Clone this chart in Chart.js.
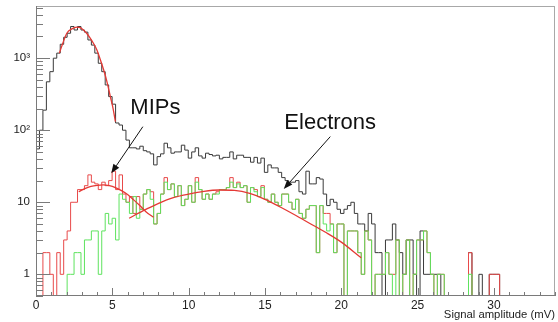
<!DOCTYPE html>
<html>
<head>
<meta charset="utf-8">
<title>Signal amplitude</title>
<script src="https://cdn.jsdelivr.net/npm/chart.js@4.4.1/dist/chart.umd.min.js"></script>
<style>
  html, body { margin: 0; padding: 0; background: #fff; }
  #wrap { width: 558px; height: 322px; position: relative; }
</style>
</head>
<body>
<div id="wrap"><canvas id="myChart"></canvas></div>
<script>
(() => {
  'use strict'

  // histogram binning (0 .. 34 mV, 150 bins)
  const binCount = 150;
  const xMax = 34;
  const binWidth = xMax / binCount;
  const yMin = 0.5;
  const yMax = 5300;

  // black: all events
  const allCounts = [
    55, 100, 190, 470, 650, 1000, 1175, 1560, 1950, 2220,
    2750, 2460, 2750, 2460, 2300, 1790, 1520, 1175, 850, 650,
    425, 293, 230, 126, 118, 100, 73, 57, 57, 55,
    60, 52, 50, 47, 33, 43, 47, 66, 57, 48,
    50, 50, 62, 53, 41, 50, 57, 44, 41, 48,
    46, 44, 45, 40, 42, 42, 50, 40, 45, 45,
    42, 42, 36, 42, 35, 41, 26, 33, 30, 30,
    26, 22, 20, 19, 19, 20, 14, 13, 27, 18,
    18, 22, 21, 13, 9, 11, 10, 8, 7, 8,
    9, 10, 7, 5, 5, 4, 7, 5, 2, 2,
    0, 3, 3, 5, 3, 2, 1, 3, 3, 1,
    0, 4, 1, 1, 1, 1, 1, 0, 0, 0,
    0, 0, 0, 0, 0, 2, 0, 0, 1, 0,
    0, 1, 1, 1, 0, 0, 0, 0, 0, 0,
    0, 0, 0, 0, 0, 0, 0, 0, 0, 0
  ];

  // red: MIP selection
  const mipCounts = [
    0, 0, 2, 2, 1, 0, 2, 1, 3, 4,
    10, 10, 15, 15, 17, 24, 19, 18, 15, 19,
    17, 20, 27, 15, 24, 13, 10, 12, 7, 12,
    8, 13, 15, 14, 5, 7, 13, 22, 15, 18,
    12, 17, 9, 11, 17, 10, 22, 15, 11, 13,
    11, 13, 14, 15, 15, 16, 22, 16, 19, 16,
    17, 10, 16, 15, 12, 17, 11, 10, 13, 10,
    9, 13, 13, 10, 8, 11, 7, 6, 8, 9,
    9, 2, 9, 7, 7, 5, 2, 5, 5, 0,
    4, 4, 4, 2, 1, 4, 3, 0, 1, 1,
    1, 2, 1, 1, 3, 0, 1, 3, 0, 1,
    3, 3, 4, 2, 1, 0, 1, 1, 0, 0,
    0, 0, 0, 0, 0, 2, 0, 0, 0, 0,
    0, 1, 1, 1, 0, 0, 0, 0, 0, 0,
    0, 0, 0, 0, 0, 0, 0, 0, 0, 0
  ];

  // green: electron selection
  const electronCounts = [
    0, 0, 0, 0, 0, 0, 0, 0, 0, 1,
    1, 2, 2, 1, 3, 3, 4, 4, 1, 4,
    7, 5, 6, 3, 13, 11, 10, 7, 12, 6,
    8, 13, 15, 11, 5, 7, 13, 19, 15, 18,
    12, 17, 9, 11, 17, 10, 19, 15, 11, 13,
    11, 13, 13, 15, 15, 16, 19, 16, 18, 16,
    17, 10, 16, 14, 12, 16, 11, 10, 13, 10,
    9, 13, 13, 10, 8, 11, 7, 6, 8, 9,
    9, 2, 9, 5, 4, 5, 2, 5, 5, 0,
    4, 4, 4, 2, 1, 4, 3, 0, 1, 1,
    1, 2, 1, 0, 3, 0, 1, 3, 0, 1,
    3, 3, 4, 2, 1, 0, 1, 1, 0, 0,
    0, 0, 0, 0, 0, 1, 0, 0, 0, 0,
    0, 0, 0, 0, 0, 0, 0, 0, 0, 0,
    0, 0, 0, 0, 0, 0, 0, 0, 0, 0
  ];

  // fitted curves, points [mV, counts]
  const peakFit = [
    [1.53, 1175], [1.75, 1600], [2.02, 2220], [2.35, 2550], [2.68, 2700],
    [2.9, 2650], [3.11, 2460], [3.33, 2200], [3.55, 1900], [3.77, 1600],
    [3.99, 1300], [4.21, 960], [4.43, 690], [4.65, 470], [4.87, 293],
    [5.05, 200], [5.2, 132]
  ];
  const mipFit = [
    [2.8, 14], [3.2, 15.5], [3.6, 16.6], [4.0, 17.2], [4.4, 17.4],
    [4.8, 17.0], [5.2, 16.0], [5.6, 14.5], [6.0, 12.8], [6.4, 10.8],
    [6.8, 9.0], [7.2, 7.4], [7.7, 6.2]
  ];
  const electronFit = [
    [6.1, 6.0], [7.0, 7.6], [8.0, 9.6], [9.0, 11.6], [10.0, 13.0],
    [11.0, 14.2], [12.0, 14.8], [13.0, 14.6], [14.0, 13.3], [15.0, 11.0],
    [16.0, 8.6], [17.0, 6.6], [18.0, 5.0], [19.0, 3.8], [20.0, 2.8],
    [21.3, 1.7]
  ];

  const xTickValues = [0, 5, 10, 15, 20, 25, 30];
  const xTickLabels = ['0', '5', '10', '15', '20', '25', '30'];
  const yTickValues = [1, 10, 100, 1000];
  const yTickLabels = ['1', '10', '10²', '10³'];

  // text + arrow annotations, in data units
  const notes = [
    { text: 'MIPs', at: [6.18, 166], from: [7.0, 112], to: [4.93, 25.3] },
    { text: 'Electrons', at: [16.27, 103], from: [19.28, 81.5], to: [16.23, 15.3] }
  ];

  const font = "'Liberation Sans', Arial, Helvetica, sans-serif";

  // bins -> step points (zero bins sit on the axis floor)
  function histPoints(counts) {
    const pts = counts.map((c, i) => ({ x: i * binWidth, y: Math.max(c, yMin) }));
    pts.push({ x: xMax, y: Math.max(counts[counts.length - 1], yMin) });
    return pts;
  }
  const curvePoints = arr => arr.map(p => ({ x: p[0], y: p[1] }));

  function histDataset(counts, color, order) {
    return {
      data: histPoints(counts),
      stepped: 'before',
      borderColor: color,
      borderWidth: 1,
      pointRadius: 0,
      fill: false,
      order: order
    };
  }
  function fitDataset(arr) {
    return {
      data: curvePoints(arr),
      borderColor: '#e53935',
      borderWidth: 1.3,
      pointRadius: 0,
      fill: false,
      cubicInterpolationMode: 'monotone',
      order: 0
    };
  }

  // ROOT style frame with inner ticks
  const rootAxes = {
    id: 'rootAxes',
    afterDatasetsDraw(chart) {
      const { ctx, chartArea: a, scales: { x, y } } = chart;
      ctx.save();
      ctx.lineWidth = 1;
      ctx.strokeStyle = '#a8a8a8';
      ctx.strokeRect(a.left + 0.5, a.top + 0.5, a.right - a.left - 1, a.bottom - a.top - 1);
      ctx.strokeStyle = '#7a7a7a';
      ctx.beginPath();
      ctx.moveTo(a.left + 0.5, a.top); ctx.lineTo(a.left + 0.5, a.bottom);
      ctx.moveTo(a.left, a.bottom - 0.5); ctx.lineTo(a.right, a.bottom - 0.5);
      for (let v = 0; v <= xMax; v++) {
        const px = Math.round(x.getPixelForValue(v)) + 0.5;
        const len = v % 5 === 0 ? 8 : 4;
        ctx.moveTo(px, a.bottom); ctx.lineTo(px, a.bottom - len);
      }
      for (let e = -1; e <= 3; e++) {
        for (let m = 1; m <= 9; m++) {
          const v = m * Math.pow(10, e);
          if (v < yMin || v > yMax) continue;
          const py = Math.round(y.getPixelForValue(v)) + 0.5;
          const len = m === 1 ? 14 : 7;
          ctx.moveTo(a.left, py); ctx.lineTo(a.left + len, py);
        }
      }
      ctx.stroke();
      ctx.restore();
    },
    afterDraw(chart) {
      const { ctx, scales: { x, y } } = chart;
      ctx.save();
      ctx.strokeStyle = '#111';
      ctx.fillStyle = '#111';
      ctx.lineWidth = 1;
      notes.forEach(n => {
        const fx = x.getPixelForValue(n.from[0]), fy = y.getPixelForValue(n.from[1]);
        const tx = x.getPixelForValue(n.to[0]), ty = y.getPixelForValue(n.to[1]);
        const ang = Math.atan2(ty - fy, tx - fx);
        const L = 9, W = 3.5;
        const bx = tx - L * Math.cos(ang), by = ty - L * Math.sin(ang);
        ctx.beginPath();
        ctx.moveTo(fx, fy); ctx.lineTo(bx, by);
        ctx.stroke();
        ctx.beginPath();
        ctx.moveTo(tx, ty);
        ctx.lineTo(bx - W * Math.sin(ang), by + W * Math.cos(ang));
        ctx.lineTo(bx + W * Math.sin(ang), by - W * Math.cos(ang));
        ctx.closePath();
        ctx.fill();
        ctx.font = '22px ' + font;
        ctx.textAlign = 'left';
        ctx.textBaseline = 'alphabetic';
        ctx.fillText(n.text, x.getPixelForValue(n.at[0]), y.getPixelForValue(n.at[1]));
      });
      ctx.restore();
    }
  };

  const ctx = document.getElementById('myChart');
  new Chart(ctx, {
    type: 'line',
    data: {
      datasets: [
        histDataset(allCounts, '#3a3a3a', 4),
        histDataset(mipCounts, '#e84a4a', 3),
        histDataset(electronCounts, '#5ee35e', 2),
        fitDataset(peakFit),
        fitDataset(mipFit),
        fitDataset(electronFit)
      ]
    },
    options: {
      responsive: true,
      maintainAspectRatio: false,
      animation: false,
      devicePixelRatio: 1,
      layout: { padding: { top: 6, right: 3, left: 0, bottom: 0 } },
      plugins: {
        legend: { display: false },
        tooltip: { enabled: false }
      },
      scales: {
        x: {
          type: 'linear',
          min: 0,
          max: xMax,
          bounds: 'data',
          grid: { display: false, drawTicks: false },
          border: { display: false },
          afterBuildTicks: s => { s.ticks = xTickValues.map(v => ({ value: v })); },
          afterFit: s => { s.height = 26; s.paddingLeft = 0; s.paddingRight = 0; },
          ticks: {
            autoSkip: false,
            maxRotation: 0,
            padding: 2,
            color: '#222',
            font: { family: font, size: 12 },
            callback: (v, i) => xTickLabels[i]
          },
          title: {
            display: true,
            text: 'Signal amplitude (mV)',
            align: 'end',
            color: '#222',
            font: { family: font, size: 11.3 },
            padding: { top: 0, bottom: 0 }
          }
        },
        y: {
          type: 'logarithmic',
          min: yMin,
          max: yMax,
          bounds: 'data',
          grid: { display: false, drawTicks: false },
          border: { display: false },
          afterBuildTicks: s => { s.ticks = yTickValues.map(v => ({ value: v })); },
          afterFit: s => { s.width = 36; s.paddingTop = 0; s.paddingBottom = 0; },
          ticks: {
            autoSkip: false,
            padding: 6,
            color: '#222',
            font: { family: font, size: 11.5 },
            callback: (v, i) => yTickLabels[i]
          }
        }
      }
    },
    plugins: [rootAxes]
  });
})();
</script>
</body>
</html>
